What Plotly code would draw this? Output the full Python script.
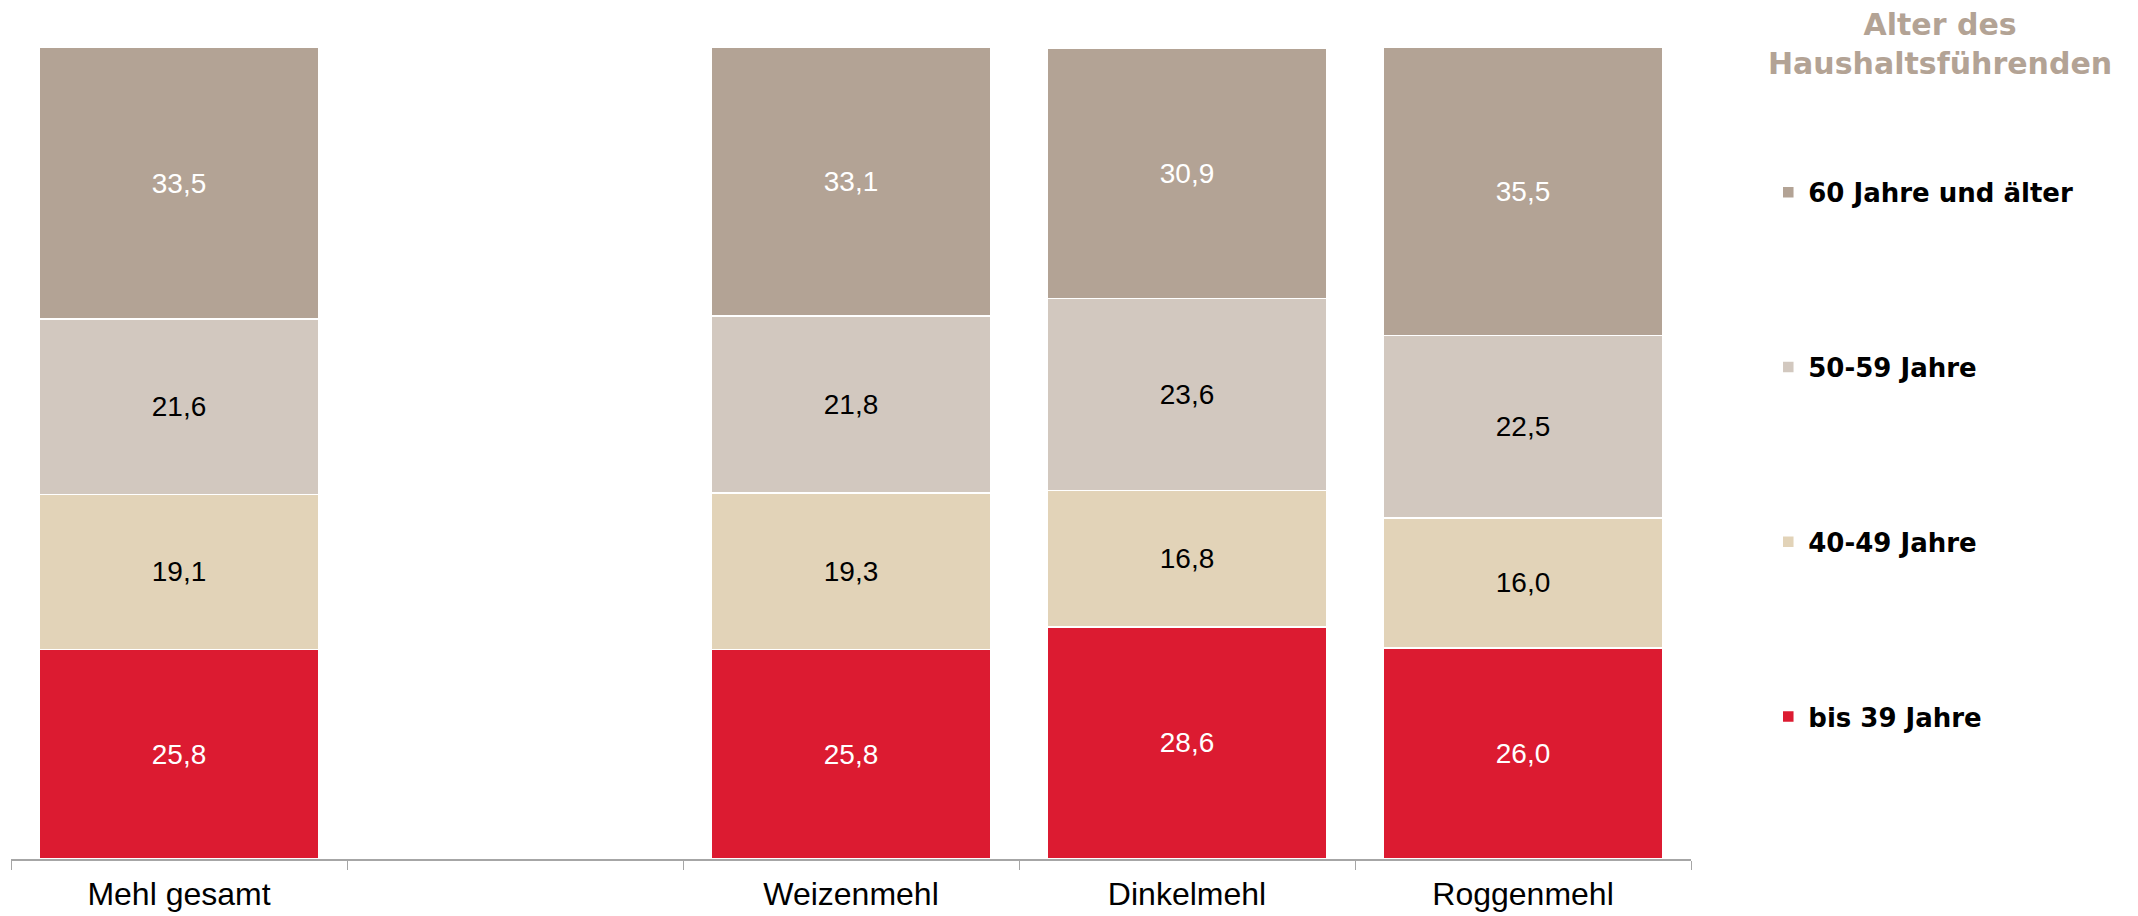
import plotly.graph_objects as go

# categories (the blank one is an empty slot in the original chart)
categories = ["Mehl gesamt", " ", "Weizenmehl", "Dinkelmehl", "Roggenmehl"]

bis_39 = [25.8, None, 25.8, 28.6, 26.0]
j40_49 = [19.1, None, 19.3, 16.8, 16.0]
j50_59 = [21.6, None, 21.8, 23.6, 22.5]
j60_plus = [33.5, None, 33.1, 30.9, 35.5]

series_names = ["bis 39 Jahre", "40-49 Jahre", "50-59 Jahre", "60 Jahre und älter"]
series_values = [bis_39, j40_49, j50_59, j60_plus]
colors = ["#dc1b31", "#e2d3b8", "#d2c8bf", "#b3a395"]
label_colors = ["white", "black", "black", "white"]

legend_title = "Alter des<br>Haushaltsführenden"

fig = go.Figure()
for i, (name, vals, col, lc) in enumerate(zip(series_names, series_values, colors, label_colors)):
    fig.add_trace(go.Bar(
        x=categories, y=vals, name=name,
        marker=dict(color=col, line=dict(color="white", width=1.5)),
        texttemplate="%{y:.1f}", textposition="inside",
        insidetextanchor="middle", textangle=0, constraintext="none",
        textfont=dict(family="Liberation Sans, Arial", size=28, color=lc),
        legendgroup=name, legendrank=len(series_names) - i,
    ))

# page body adds an 8px offset, margins are trimmed for it
fig.update_layout(
    barmode="stack",
    bargap=0.17,
    separators=",.",
    width=2138, height=916,
    margin=dict(l=3, r=455, t=39, b=65),
    plot_bgcolor="white", paper_bgcolor="white",
    font=dict(family="Liberation Sans, Arial", color="black"),
    showlegend=True,
    legend=dict(
        x=1.046, xanchor="left", y=0.85, yanchor="top",
        traceorder="grouped", tracegroupgap=138,
        font=dict(family="DejaVu Sans", size=26, color="black", weight="bold"),
        bgcolor="rgba(0,0,0,0)",
    ),
    annotations=[dict(
        text=legend_title, xref="paper", yref="paper",
        x=1.148, y=1.004, xanchor="center", yanchor="middle",
        showarrow=False, align="center",
        font=dict(family="DejaVu Sans", size=30, color="#b3a395", weight="bold"),
    )],
)

fig.update_xaxes(
    type="category", categoryorder="array", categoryarray=categories,
    showline=True, linecolor="#a6a6a6", linewidth=1.5,
    ticks="outside", tickson="boundaries", ticklen=9, tickcolor="#a6a6a6",
    ticklabelstandoff=6,
    tickfont=dict(family="Liberation Sans, Arial", size=32, color="black"),
    showgrid=False,
)
fig.update_yaxes(range=[0, 100], visible=False, showgrid=False)

fig.write_html("out.html")
